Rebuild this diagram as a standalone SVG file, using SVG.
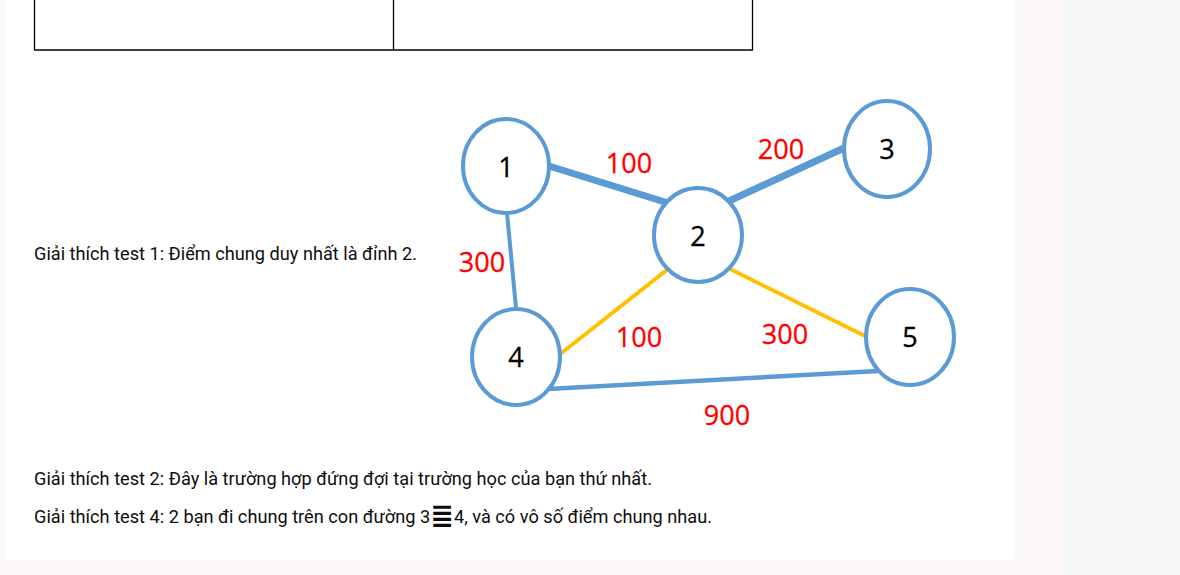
<svg xmlns="http://www.w3.org/2000/svg" width="1180" height="575" viewBox="0 0 1180 575">
<style>
.node{fill:#ffffff;stroke:#5b9bd5;stroke-width:4}
.num{font-family:"Open Sans","Liberation Sans",sans-serif;font-size:27px;fill:#000;text-anchor:middle;stroke:#000;stroke-width:0.3}
.w{font-family:"Open Sans","Liberation Sans",sans-serif;font-size:27px;fill:#ff0000;text-anchor:middle;stroke:#ff0000;stroke-width:0.3}
.body{font-family:Roboto,"Noto Sans",sans-serif;font-size:18px;fill:#0d0d0d}
.blue{stroke:#5b9bd5;fill:none}
.yel{stroke:#ffc000;stroke-width:4;fill:none}
</style>
<rect x="0" y="0" width="1180" height="575" fill="#fcf8f7"/>
<rect x="1064" y="0" width="116" height="575" fill="#f5f6f8"/>
<rect x="6" y="0" width="1009" height="560" fill="#ffffff"/>
<g id="table" fill="none" stroke="#000" stroke-width="1.3">
<line x1="34.5" y1="0" x2="34.5" y2="50"/>
<line x1="393.5" y1="0" x2="393.5" y2="50"/>
<line x1="752.5" y1="0" x2="752.5" y2="50"/>
<line x1="34" y1="50" x2="753" y2="50"/>
</g>
<text class="body" x="34" y="260" textLength="383" lengthAdjust="spacingAndGlyphs">Giải thích test 1: Điểm chung duy nhất là đỉnh 2.</text>
<g id="connectors">
<line class="blue" x1="549" y1="166" x2="668" y2="203" stroke-width="7"/>
<line class="blue" x1="729" y1="201" x2="844" y2="148" stroke-width="7"/>
<line class="blue" x1="507" y1="213" x2="516" y2="308" stroke-width="4"/>
<line class="blue" x1="548" y1="389" x2="878" y2="371" stroke-width="4.5"/>
<line class="yel" x1="668" y1="269" x2="559" y2="355"/>
<line class="yel" x1="728" y1="268" x2="867" y2="337"/>
</g>
<g id="node1"><ellipse class="node" cx="506" cy="166" rx="43" ry="47"/><text class="num" x="506" y="177">1</text></g>
<g id="node2"><ellipse class="node" cx="698" cy="235" rx="44" ry="47"/><text class="num" x="698" y="246">2</text></g>
<g id="node3"><ellipse class="node" cx="887" cy="149" rx="43" ry="48"/><text class="num" x="887" y="159">3</text></g>
<g id="node4"><ellipse class="node" cx="516" cy="357" rx="44" ry="48"/><text class="num" x="516" y="367">4</text></g>
<g id="node5"><ellipse class="node" cx="910" cy="337" rx="44" ry="48"/><text class="num" x="910" y="347">5</text></g>
<g id="labels">
<text class="w" x="629" y="173">100</text>
<text class="w" x="781" y="159">200</text>
<text class="w" x="482" y="272">300</text>
<text class="w" x="639" y="347">100</text>
<text class="w" x="785" y="344">300</text>
<text class="w" x="727" y="425">900</text>
</g>
<text class="body" x="34" y="485" textLength="618" lengthAdjust="spacingAndGlyphs">Giải thích test 2: Đây là trường hợp đứng đợi tại trường học của bạn thứ nhất.</text>
<text class="body" x="34" y="523" textLength="678" lengthAdjust="spacingAndGlyphs"><tspan>Giải thích test 4: 2 bạn đi chung trên con đường 3</tspan><tspan font-family="DejaVu Sans" font-size="28" font-weight="bold" dy="2">≣</tspan><tspan dy="-2">4, và có vô số điểm chung nhau.</tspan></text>
</svg>
